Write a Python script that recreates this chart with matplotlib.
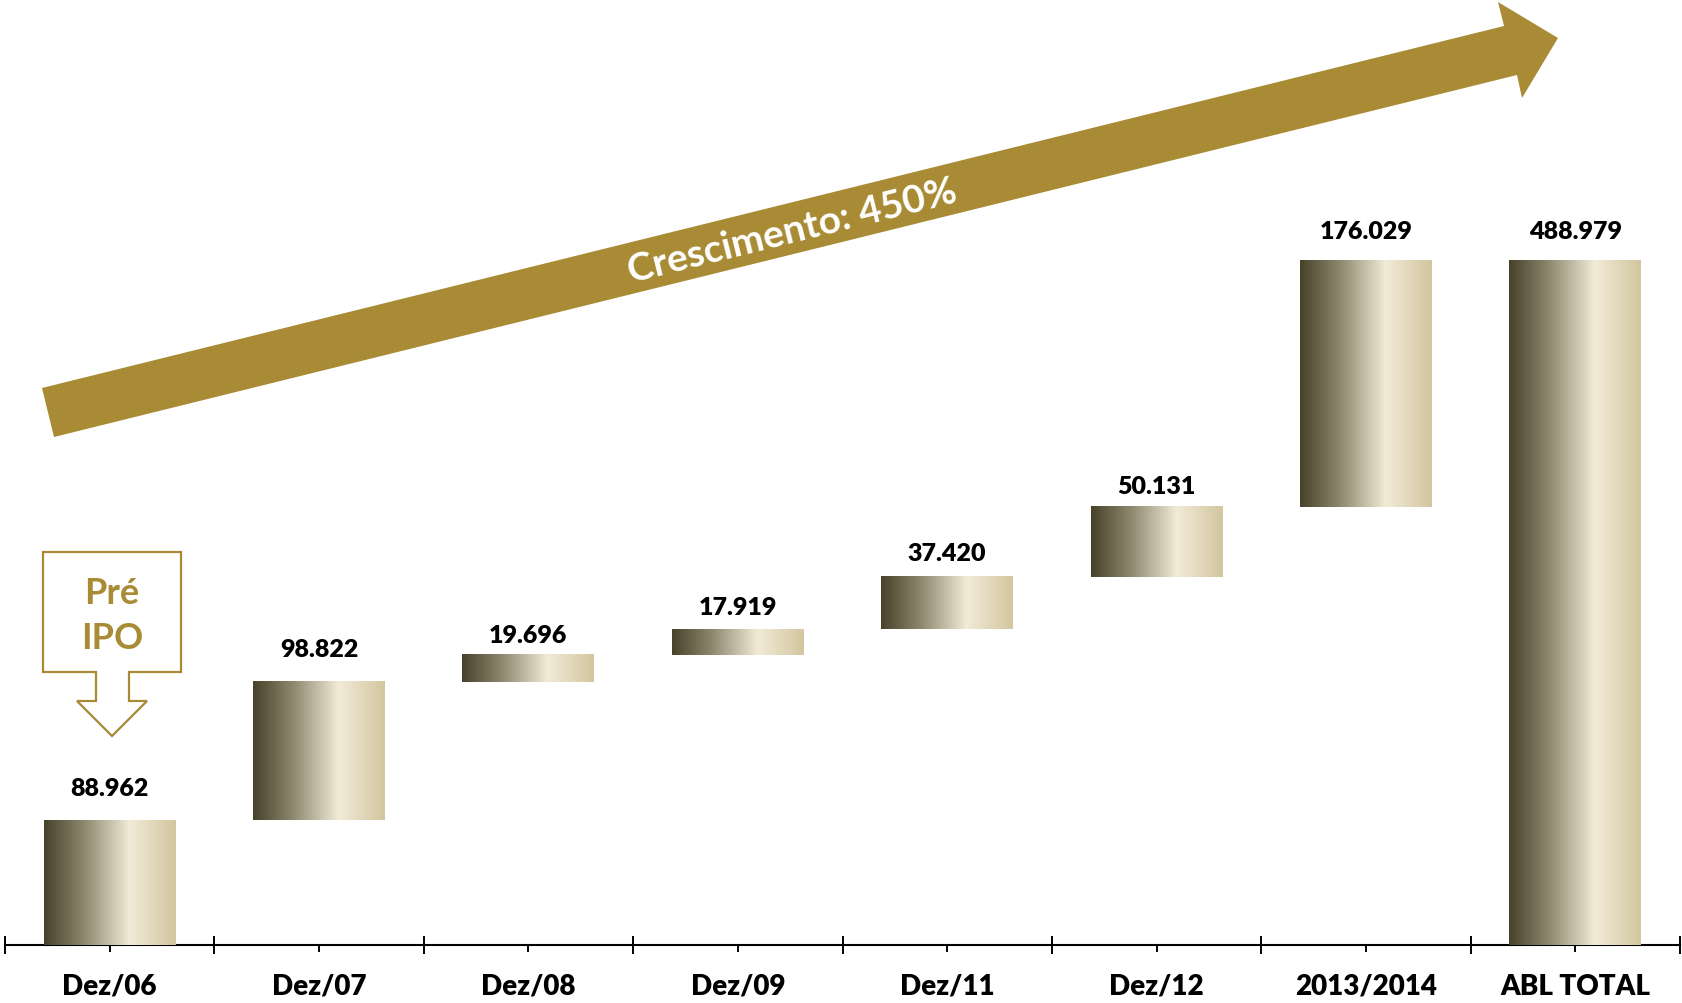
import numpy as np
import matplotlib
matplotlib.use('Agg')
import matplotlib.pyplot as plt
from matplotlib.colors import LinearSegmentedColormap
from matplotlib.patches import Polygon

# ---------------- data ----------------
categories = ['Dez/06', 'Dez/07', 'Dez/08', 'Dez/09', 'Dez/11', 'Dez/12', '2013/2014', 'ABL TOTAL']
increments = [88962, 98822, 19696, 17919, 37420, 50131, 176029]
total = 488979
value_labels = ['88.962', '98.822', '19.696', '17.919', '37.420', '50.131', '176.029', '488.979']
arrow_label = 'Crescimento: 450%'
ipo_label_lines = ['Pré', 'IPO']

# ---------------- style / layout ----------------
W, H = 1682, 1004
GOLD = '#a88b34'
FONT = ['Lato', 'DejaVu Sans']
plt.rcParams['font.family'] = FONT
label_gap_pt = [18, 19, 9, 11, 12, 10, 16, 16]   # gap between bar top and its label

fig = plt.figure(figsize=(W / 100, H / 100), dpi=100)
fig.patch.set_facecolor('white')
ax = fig.add_axes([5 / W, 58 / H, 1675 / W, 946 / H])


def fx(px):
    return px / W


def fy(py):
    return 1 - py / H


heights = increments + [total]
bottoms = list(np.cumsum([0] + increments[:-1])) + [0]
x = np.arange(len(categories))

bars = ax.bar(x, heights, bottom=bottoms, width=0.63, color='none', edgecolor='none')

cmap = LinearSegmentedColormap.from_list(
    'gold_grad', [(0.0, '#48422b'), (0.3, '#8d876e'), (0.65, '#f1ebd7'), (1.0, '#d3c6a0')])
grad = np.linspace(0, 1, 256)[None, :]
for b in bars:
    x0, y0 = b.get_x(), b.get_y()
    ax.imshow(grad, cmap=cmap, extent=(x0, x0 + b.get_width(), y0, y0 + b.get_height()),
              aspect='auto', interpolation='bicubic', zorder=3)

for b, lab, gap in zip(bars, value_labels, label_gap_pt):
    ax.annotate(lab, (b.get_x() + b.get_width() / 2, b.get_y() + b.get_height()),
                xytext=(0, gap), textcoords='offset points', ha='center', va='baseline',
                fontsize=18, fontweight='heavy', color='black', zorder=4)

ax.set_xlim(-0.5, len(categories) - 0.5)
ax.set_ylim(0, 946 / 1.40 * 1000)

ax.set_xticks(np.arange(-0.5, len(categories), 1))
ax.set_xticks(x, minor=True)
ax.set_xticklabels(categories, minor=True, fontsize=20, fontweight='heavy')
ax.tick_params(axis='x', which='major', direction='inout', length=13, width=1.4, labelbottom=False)
ax.tick_params(axis='x', which='minor', direction='out', length=5, width=1.4, pad=15)
ax.set_yticks([])
for s in ['top', 'left', 'right']:
    ax.spines[s].set_visible(False)
ax.spines['bottom'].set_linewidth(1.5)
ax.set_facecolor('none')

# ---------------- big growth arrow ----------------
arrow_px = [(42, 389), (1504, 27), (1498, 3), (1558, 39), (1522, 99), (1517, 76), (54, 438)]
fig.patches.append(Polygon([(fx(a), fy(b)) for a, b in arrow_px], closed=True,
                           transform=fig.transFigure, facecolor=GOLD, edgecolor='none', zorder=1))
ang = np.degrees(np.arctan2(362, 1462))
cx, cy = 792, 229
off = 14
bx = cx + off * np.sin(np.radians(ang))
by = cy + off * np.cos(np.radians(ang))
fig.text(fx(bx), fy(by), arrow_label, rotation=ang, rotation_mode='anchor',
         ha='center', va='baseline', color='white', fontsize=28, fontweight='bold', zorder=5)

# ---------------- Pré IPO call-out ----------------
box_px = [(43, 553), (181, 553), (181, 673), (129, 673), (129, 702), (147, 702), (112, 737),
          (77, 702), (96, 702), (96, 673), (43, 673)]
fig.patches.append(Polygon([(fx(a), fy(b)) for a, b in box_px], closed=True,
                           transform=fig.transFigure, facecolor='white', edgecolor=GOLD,
                           linewidth=1.6, zorder=1))
for line, base in zip(ipo_label_lines, [604, 649]):
    fig.text(fx(112), fy(base), line, ha='center', va='baseline', color=GOLD,
             fontsize=26, fontweight='bold', zorder=5)

fig.savefig('out.png', dpi=100, facecolor='white')
